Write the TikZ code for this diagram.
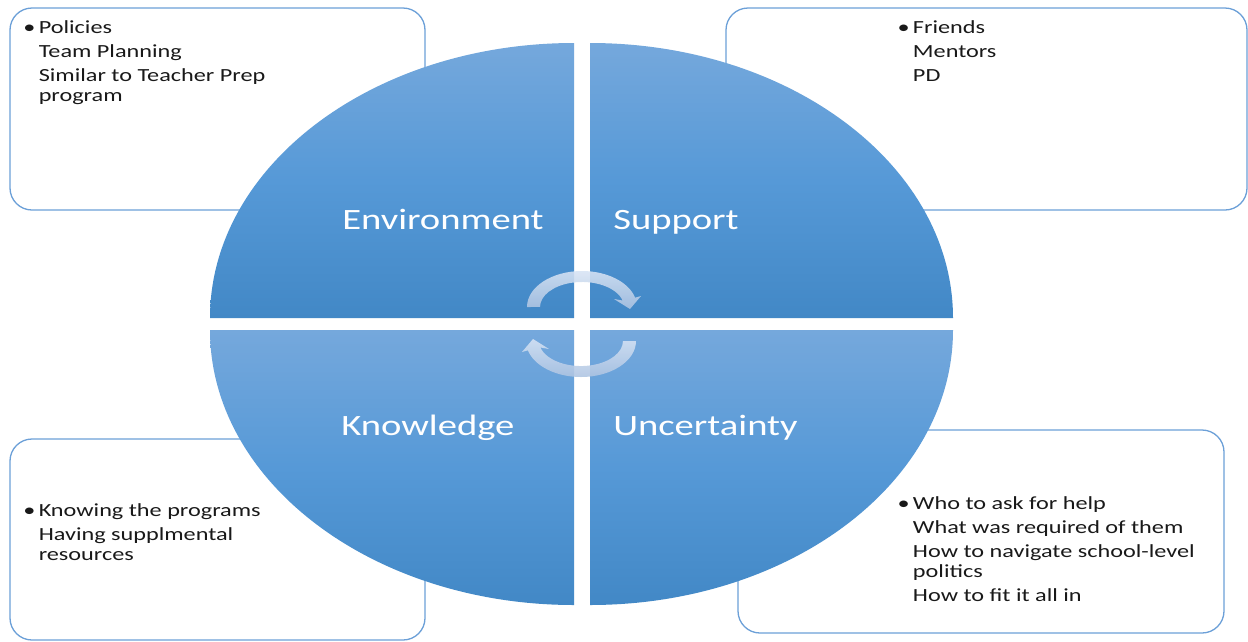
\documentclass[tikz,border=0pt]{standalone}
\usepackage{fontspec}
\setmainfont{Carlito}
\definecolor{quadtop}{RGB}{117,168,220}
\definecolor{quadmid}{RGB}{86,153,215}
\definecolor{quadbot}{RGB}{66,136,198}
\definecolor{boxline}{RGB}{108,160,216}
\definecolor{arrowlight}{RGB}{216,228,244}
\definecolor{arrowdark}{RGB}{174,196,226}
\definecolor{bodytext}{RGB}{25,25,25}
\begin{document}
\begin{tikzpicture}[x=1pt,y=-1pt,
  panel/.style={draw=boxline, line width=1.3pt, fill=white, rounded corners=22pt},
  quad/.style={top color=quadtop, bottom color=quadbot, middle color=quadmid},
  cyclearrow/.style={top color=arrowlight, bottom color=arrowdark, fill opacity=0.88},
  quadlabel/.style={font=\fontsize{29.5}{34}\selectfont, text=white, anchor=base west,
    inner sep=0pt, xscale=1.31},
  % multi-line texts are placed by the baseline of their last line
  itemtext/.style={font=\fontsize{18.5}{20}\selectfont, text=bodytext, align=left,
    anchor=base west, inner sep=0pt, xscale=1.31}]
% canvas
\useasboundingbox (0,0) rectangle (1248,641);
\fill[white] (0,0) rectangle (1248,641);

% rounded text panels behind the circle
\path[panel] (10,8) rectangle (425,210);
\path[panel] (726,8) rectangle (1247,210);
\path[panel] (10,439) rectangle (425,640);
\path[panel] (738,430) rectangle (1224,633);

% the four quarters of the split ellipse
\shade[quad] (574,318) -- (210,318)
  arc[start angle=180, end angle=270, x radius=364, y radius=275] -- cycle;
\shade[quad] (590,318) -- (590,43)
  arc[start angle=270, end angle=360, x radius=363, y radius=275] -- cycle;
\shade[quad] (574,330) -- (574,605)
  arc[start angle=90, end angle=180, x radius=364, y radius=275] -- cycle;
\shade[quad] (590,330) -- (953,330)
  arc[start angle=0, end angle=90, x radius=363, y radius=275] -- cycle;

% circular arrows in the middle
\shade[cyclearrow] (527,307)
  arc[start angle=180, end angle=345, x radius=55, y radius=36]
  -- (641,296) -- (630,309) -- (614,299) -- (622.6,300.5)
  arc[start angle=345, end angle=180, x radius=42, y radius=25] -- cycle;
\shade[cyclearrow] (636,341)
  arc[start angle=0, end angle=165, x radius=55, y radius=36]
  -- (522,352) -- (533,339) -- (549,349) -- (540.4,347.5)
  arc[start angle=165, end angle=0, x radius=42, y radius=25] -- cycle;

% quarter labels
\node[quadlabel] (env) at (342,229) {Environment};
\node[quadlabel] (sup) at (613,229) {Support};
\node[quadlabel] (kno) at (341,435) {Knowledge};
\node[quadlabel] (unc) at (613,435) {Uncertainty};

% panel texts
\node[itemtext] (envitems) at (38.5,101.5)
  {\llap{\textbullet\hspace{2.5pt}}Policies\\[4pt]Team Planning\\[4pt]Similar to Teacher Prep\\program};
\node[itemtext] (supitems) at (912.7,81.5)
  {\llap{\textbullet\hspace{2.5pt}}Friends\\[4pt]Mentors\\[4pt]PD};
\node[itemtext] (knoitems) at (38.5,560)
  {\llap{\textbullet\hspace{2.5pt}}Knowing the programs\\[3.5pt]Having supplmental\\resources};
\node[itemtext] (uncitems) at (912.7,601)
  {\llap{\textbullet\hspace{2.5pt}}Who to ask for help\\[4pt]What was required of them\\[4pt]How to navigate school-level\\politics\\[4pt]How to fit it all in};
\end{tikzpicture}
\end{document}
